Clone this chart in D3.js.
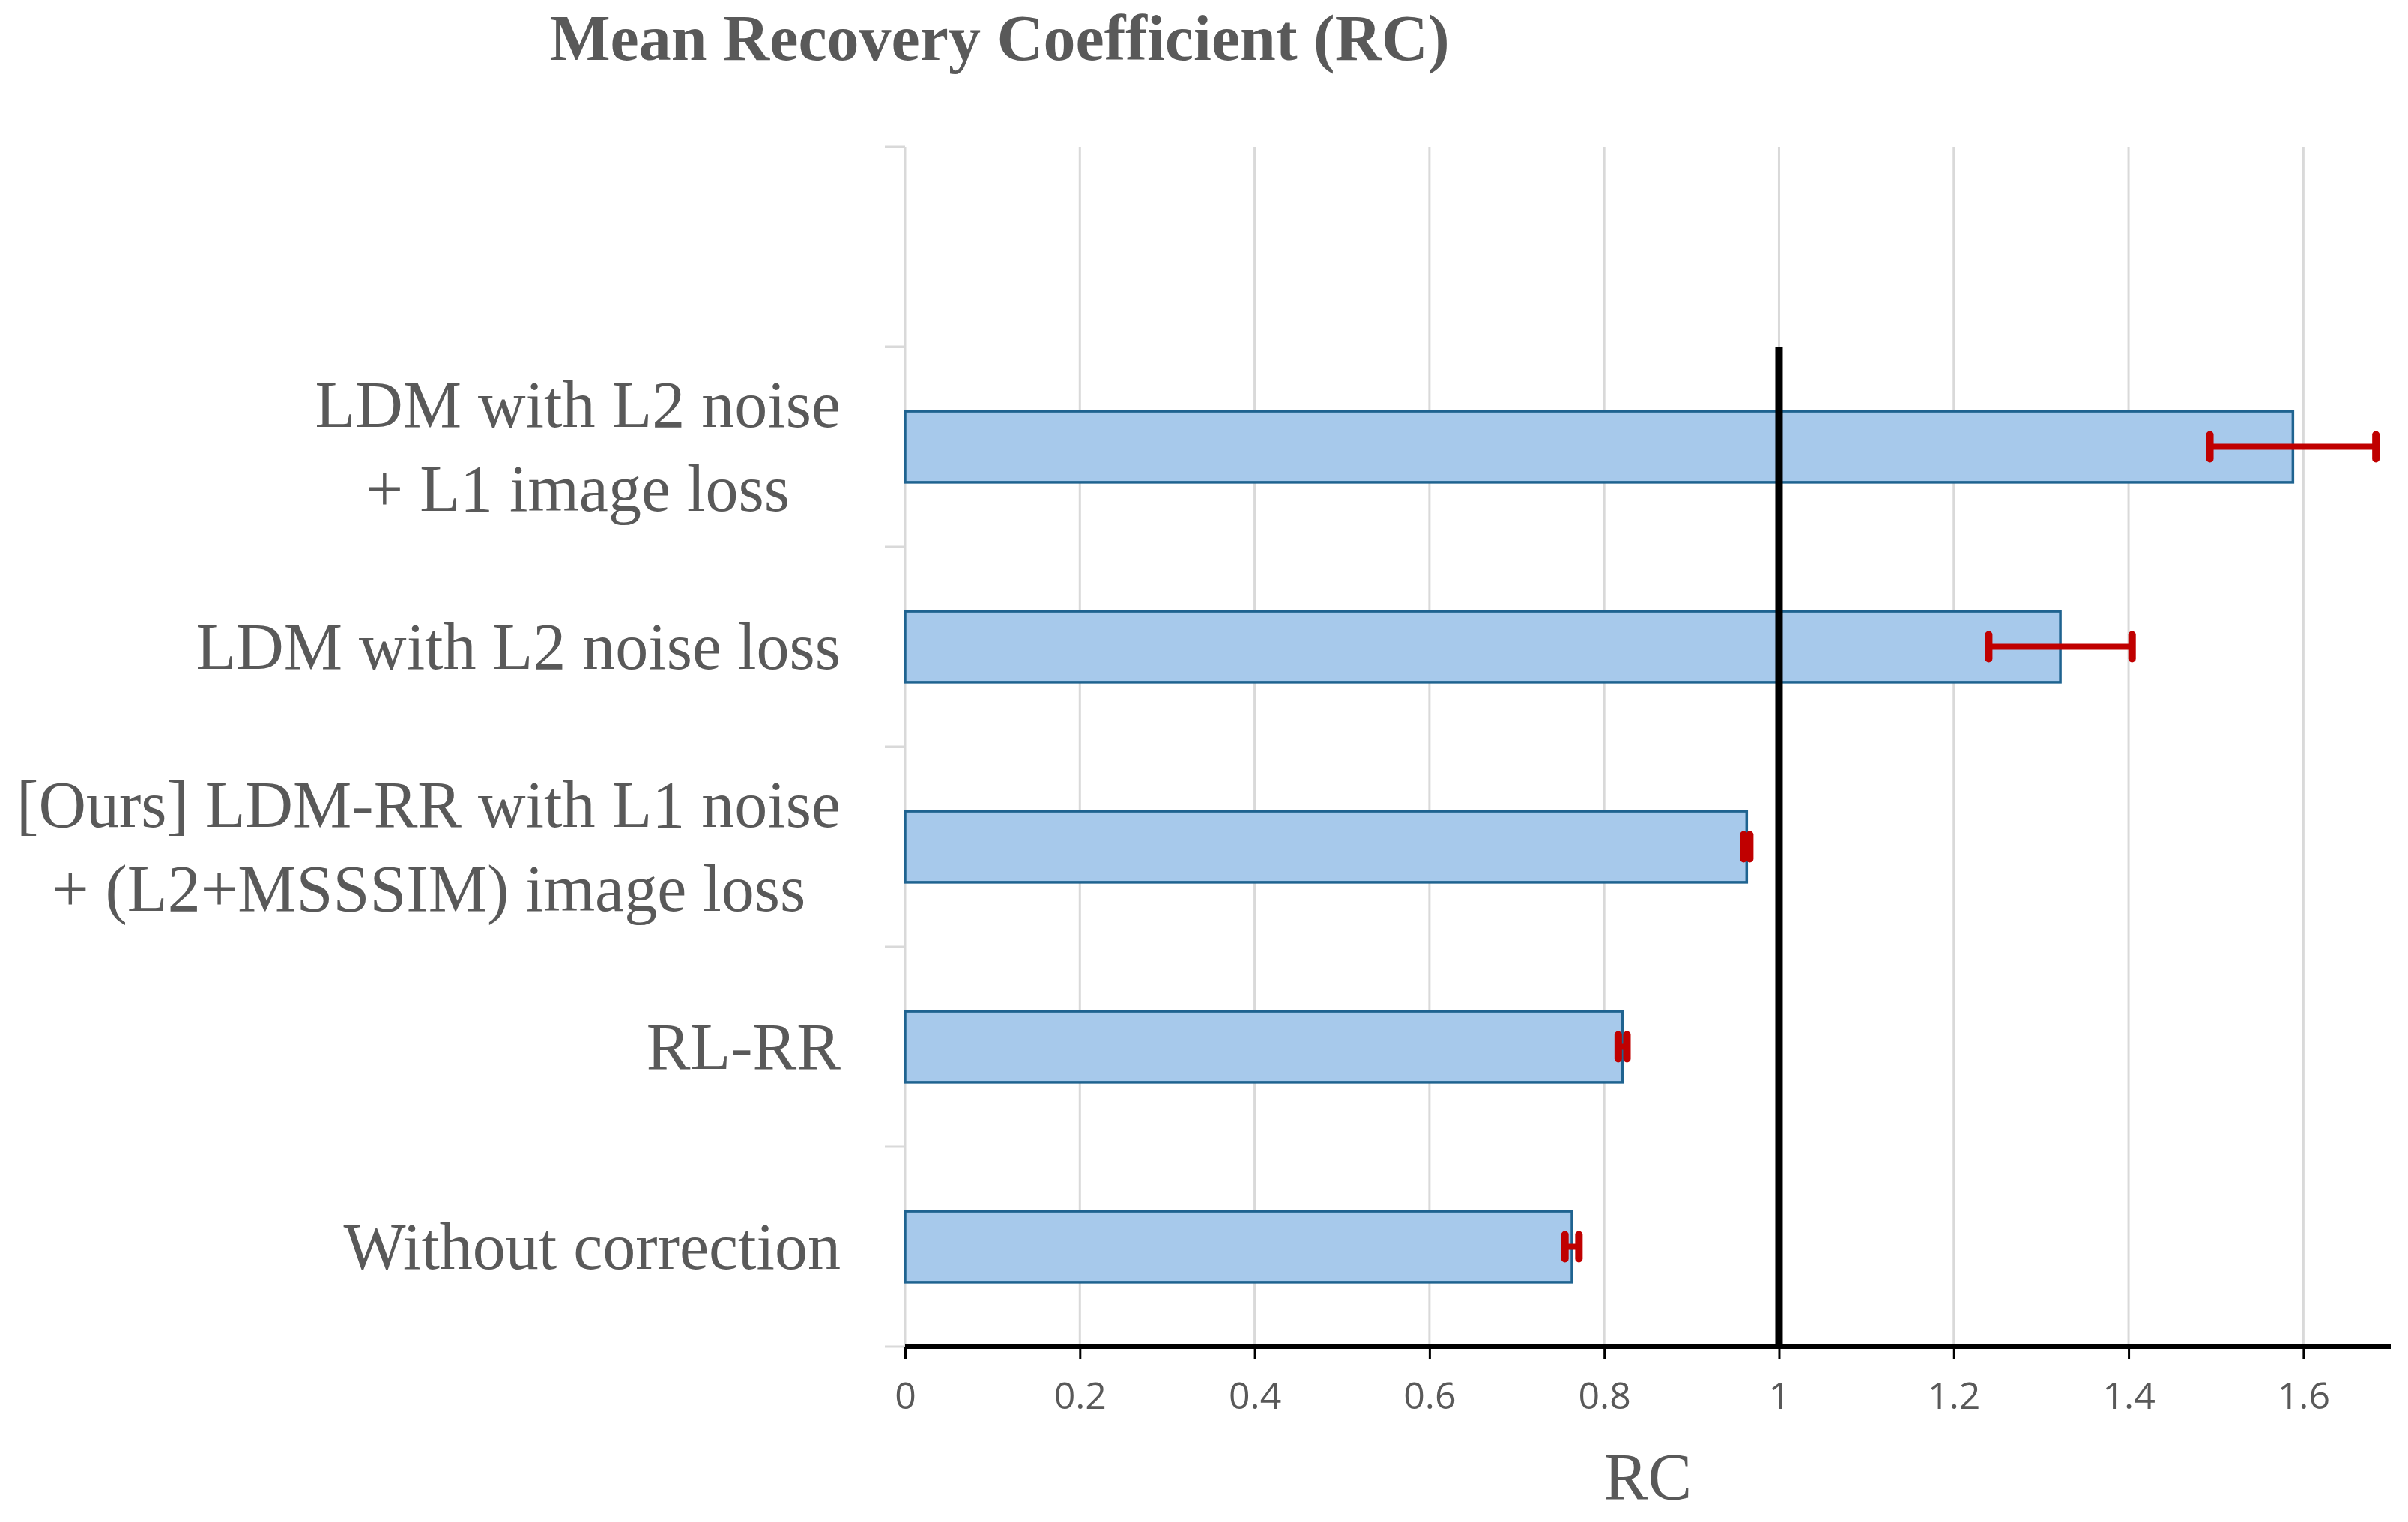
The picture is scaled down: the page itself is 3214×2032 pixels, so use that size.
<!DOCTYPE html>
<html lang="en">
<head>
<meta charset="UTF-8">
<title>Mean Recovery Coefficient (RC)</title>
<script src="https://d3js.org/d3.v7.min.js"></script>
<style>
    body { margin: 0; background: #fff; }
    .serif { font-family: "Palatino Linotype", "Book Antiqua", Palatino, "Liberation Serif", serif; fill: #595959; }
    .tick text { font-family: "Open Sans", sans-serif; fill: #595959; }
</style>
</head>
<body>
<div id="chart"></div>
<script>
    // categories top -> bottom (first one is an empty slot in the original chart)
    const categories = ["", "LDM with L2 noise\n+ L1 image loss", "LDM with L2 noise loss",
        "[Ours] LDM-RR with L1 noise\n+ (L2+MSSSIM) image loss", "RL-RR", "Without correction"]
    const rcValues = [null, 1.588, 1.322, 0.963, 0.821, 0.763]
    const rcErrors = [null, 0.095, 0.082, 0.0035, 0.005, 0.008]
    const xTicks = [0, 0.2, 0.4, 0.6, 0.8, 1, 1.2, 1.4, 1.6]
    const idealRC = 1

    const W = 3214, H = 2032
    const margin = {top: 196, right: 23, bottom: 234, left: 1208}
    const width = W - margin.left - margin.right
    const height = H - margin.top - margin.bottom

    const svg = d3.select("#chart").append("svg")
        .attr("width", W).attr("height", H)

    const g = svg.append("g")
        .attr("transform", "translate(" + margin.left + "," + margin.top + ")")

    const x = d3.scaleLinear().domain([0, 1.7]).range([0, width])
    const y = d3.scaleBand().domain(d3.range(categories.length)).range([0, height])
        .paddingInner(0.645).paddingOuter(0.3225)

    // vertical gridlines
    g.append("g").selectAll("line").data(xTicks.slice(1)).join("line")
        .attr("x1", d => x(d)).attr("x2", d => x(d))
        .attr("y1", 0).attr("y2", height)
        .attr("stroke", "#d9d9d9").attr("stroke-width", 3)

    // category axis (grey line with ticks at band edges)
    const step = y.step()
    const edges = d3.range(categories.length + 1).map(i => i * height / categories.length)
    g.append("line").attr("x1", 0).attr("x2", 0).attr("y1", 0).attr("y2", height)
        .attr("stroke", "#d9d9d9").attr("stroke-width", 3)
    g.append("g").selectAll("line").data(edges).join("line")
        .attr("x1", -27).attr("x2", 0).attr("y1", d => d).attr("y2", d => d)
        .attr("stroke", "#d9d9d9").attr("stroke-width", 3)

    const data = categories.map((c, i) => ({i: i, label: c, v: rcValues[i], e: rcErrors[i]}))
        .filter(d => d.v != null)

    // bars
    g.append("g").selectAll("rect").data(data).join("rect")
        .attr("x", x(0))
        .attr("y", d => y(d.i))
        .attr("width", d => x(d.v) - x(0))
        .attr("height", y.bandwidth())
        .attr("fill", "#a7c9eb")
        .attr("stroke", "#1f6390").attr("stroke-width", 3.5)

    // reference line at RC = 1
    g.append("line")
        .attr("x1", x(idealRC)).attr("x2", x(idealRC))
        .attr("y1", y(1) - (step - y.bandwidth()) / 2).attr("y2", height)
        .attr("stroke", "#000").attr("stroke-width", 10)

    // error bars
    const eb = g.append("g").attr("stroke", "#c00000").attr("stroke-linecap", "round")
    const cy = d => y(d.i) + y.bandwidth() / 2
    eb.selectAll("line.h").data(data).join("line").attr("class", "h")
        .attr("x1", d => x(d.v - d.e)).attr("x2", d => x(d.v + d.e))
        .attr("y1", cy).attr("y2", cy).attr("stroke-width", 8)
    eb.selectAll("line.cl").data(data).join("line").attr("class", "cl")
        .attr("x1", d => x(d.v - d.e)).attr("x2", d => x(d.v - d.e))
        .attr("y1", d => cy(d) - 16).attr("y2", d => cy(d) + 16).attr("stroke-width", 10)
    eb.selectAll("line.cr").data(data).join("line").attr("class", "cr")
        .attr("x1", d => x(d.v + d.e)).attr("x2", d => x(d.v + d.e))
        .attr("y1", d => cy(d) - 16).attr("y2", d => cy(d) + 16).attr("stroke-width", 10)

    // x axis
    const xAxis = g.append("g")
        .attr("transform", "translate(0," + height + ")")
        .call(d3.axisBottom(x).tickValues(xTicks).tickSize(17).tickPadding(30).tickFormat(d3.format("")))
    xAxis.select(".domain").attr("stroke", "#000").attr("stroke-width", 6)
        .attr("d", "M0,0H" + width)
    xAxis.selectAll(".tick line").attr("stroke", "#000").attr("stroke-width", 3)
    xAxis.selectAll(".tick text").attr("font-size", 50)

    // category labels: lines centered to each other, block right-aligned
    const labelRight = 1122 - margin.left
    data.forEach(d => {
        const lines = d.label.split("\n")
        const t = g.append("text").attr("class", "serif").attr("font-size", 88)
        const lh = 112
        const y0 = cy(d) + 29 - (lines.length - 1) * lh / 2
        lines.forEach((ln, k) => {
            t.append("tspan").attr("y", y0 + k * lh).text(ln)
        })
        const widths = []
        t.selectAll("tspan").each(function () { widths.push(this.getComputedTextLength()) })
        const mid = labelRight - d3.max(widths) / 2
        t.attr("text-anchor", "middle").selectAll("tspan").attr("x", mid)
    })

    // title
    svg.append("text").attr("class", "serif")
        .attr("x", 1334).attr("y", 80)
        .attr("text-anchor", "middle")
        .attr("font-size", 86).attr("font-weight", "bold")
        .text("Mean Recovery Coefficient (RC)")

    // axis title
    svg.append("text").attr("class", "serif")
        .attr("x", margin.left + width / 2).attr("y", 2001)
        .attr("text-anchor", "middle")
        .attr("font-size", 88)
        .text("RC")
</script>
</body>
</html>
